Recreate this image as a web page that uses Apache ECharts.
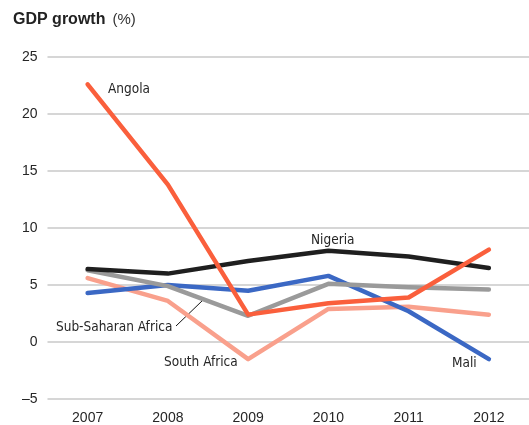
<!DOCTYPE html>
<html><head><meta charset="utf-8">
<script src="https://cdn.jsdelivr.net/npm/echarts@6/dist/echarts.min.js"></script>
<style>html,body{margin:0;padding:0;background:#fff}#c{width:529px;height:425px}</style>
</head><body><div id="c"></div>
<script>
const years = ['2007','2008','2009','2010','2011','2012'];
const southAfrica = [5.6, 3.6, -1.5, 2.9, 3.1, 2.4];
const mali = [4.3, 5.0, 4.5, 5.8, 2.7, -1.5];
const subSaharan = [6.3, 4.9, 2.3, 5.1, 4.8, 4.6];
const nigeria = [6.4, 6.0, 7.1, 8.0, 7.5, 6.5];
const angola = [22.6, 13.8, 2.4, 3.4, 3.9, 8.1];
const yTicks = [-5, 0, 5, 10, 15, 20, 25];

const FONT = '"DejaVu Sans Condensed", sans-serif';
const chart = echarts.init(document.getElementById('c'), null, {renderer:'canvas'});
function line(name, data, color, z) {
  return {name, type:'line', data, symbol:'none', z,
    lineStyle:{color, width:4.5, cap:'round', join:'round'}, animation:false};
}
const lbl = (text, x, y) => ({type:'text', x, y, style:{text, x:0, y:0, font:'13.5px ' + FONT, fill:'#262626', align:'left', verticalAlign:'middle'}});
chart.setOption({
  animation:false,
  grid:{left:47.5, right:-4.5, top:57, bottom:25},
  xAxis:{type:'category', data:years, boundaryGap:true,
    axisLine:{show:false}, axisTick:{show:false},
    axisLabel:{color:'#262626', fontFamily:'"Liberation Sans", sans-serif', fontSize:14, margin:12}},
  yAxis:{type:'value', min:yTicks[0], max:yTicks[yTicks.length-1], interval:5,
    axisLine:{show:false}, axisTick:{show:false},
    splitLine:{lineStyle:{color:'#d6d6d6', width:2}},
    axisLabel:{color:'#262626', fontFamily:'"Liberation Sans", sans-serif', fontSize:14, margin:10,
      formatter:v => String(v).replace('-', '\u2013')}},
  series:[
    line('South Africa', southAfrica, '#f9a08c', 1),
    line('Mali', mali, '#3b68c4', 2),
    line('Sub-Saharan Africa', subSaharan, '#9a9a9a', 3),
    line('Nigeria', nigeria, '#1f1f1f', 4),
    line('Angola', angola, '#fa5f3c', 5)
  ],
  graphic:[
    {type:'text', x:13, y:20, style:{x:0, y:0, verticalAlign:'middle', rich:{b:{font:'bold 16px "Liberation Sans", sans-serif', fill:'#222'}, n:{font:'15px "Liberation Sans", sans-serif', fill:'#333'}, s:{width:7}}, text:'{b|GDP growth}{s| }{n|(%)}'}},
    lbl('Angola', 108, 89),
    lbl('Nigeria', 311, 240),
    lbl('Sub-Saharan Africa', 56, 327),
    lbl('South Africa', 164, 362),
    lbl('Mali', 452, 363),
    {type:'line', shape:{x1:176, y1:326, x2:203, y2:300}, style:{stroke:'#111', lineWidth:1}}
  ]
});
</script></body></html>
